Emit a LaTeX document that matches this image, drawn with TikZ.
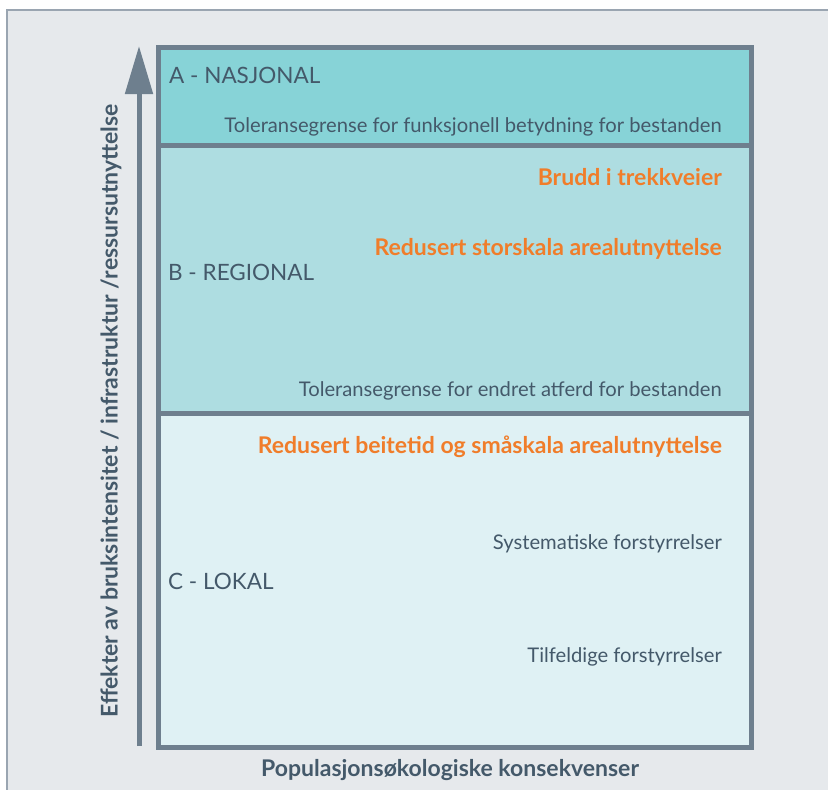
\documentclass[tikz,border=0pt]{standalone}
\usepackage{fontspec}
\setmainfont{Lato}
\usetikzlibrary{positioning, arrows.meta}
\definecolor{framegray}{HTML}{9AA5B1}
\definecolor{bggray}{HTML}{E6E9EC}
\definecolor{boxline}{HTML}{6E7F8E}
\definecolor{nasjfill}{HTML}{87D3D7}
\definecolor{regfill}{HTML}{AEDDE1}
\definecolor{lokfill}{HTML}{DFF1F4}
\definecolor{textdark}{HTML}{44596A}
\definecolor{effekt}{HTML}{F07D2A}

\begin{document}
\begin{tikzpicture}[
        x=1pt, y=-1pt,
        font=\fontsize{20.2}{24}\selectfont\color{textdark},
        level/.style={rectangle, draw=boxline, line width=4.5pt,
          inner sep=0pt, anchor=north west},
        levelname/.style={anchor=west, inner sep=0pt,
          font=\fontsize{22.5}{26}\selectfont\color{textdark}},
        note/.style={anchor=east, inner sep=0pt},
        impact/.style={anchor=east, inner sep=0pt,
          font=\fontsize{23}{27}\selectfont\bfseries\color{effekt}},
        axislabel/.style={inner sep=0pt,
          font=\fontsize{23}{27}\selectfont\bfseries\color{textdark}}
      ]
      \useasboundingbox (0,0) rectangle (828,790);

      % background frame
      \draw[fill=bggray, draw=framegray, line width=2.5pt]
      (7,10) rectangle (840,800);

      % levels
      \node[level, fill=lokfill, minimum width=593pt,
        minimum height=334pt] (lokal) at (156,411) {};
      \node[level, fill=regfill, minimum width=593pt,
        minimum height=268pt] (regional) at (156,143) {};
      \node[level, fill=nasjfill, minimum width=593pt,
        minimum height=98pt] (nasjonal) at (156,45) {};

      % level names
      \node[levelname] (a_name) at (169,75) {A - NASJONAL};
      \node[levelname] (b_name) at (168,272) {B - REGIONAL};
      \node[levelname] (c_name) at (168,581) {C - LOKAL};

      % notes and impacts
      \node[note] (a_tol) at (722,127)
      {Toleransegrense for funksjonell betydning for bestanden};
      \node[impact] (b_brudd) at (722,177) {Brudd i trekkveier};
      \node[impact] (b_stor) at (722,249)
      {Redusert storskala arealutnyttelse};
      \node[note] (b_tol) at (722,391)
      {Toleransegrense for endret atferd for bestanden};
      \node[impact] (c_beite) at (722,447)
      {Redusert beitetid og småskala arealutnyttelse};
      \node[note] (c_sys) at (722,544) {Systematiske forstyrrelser};
      \node[note] (c_tilf) at (722,657) {Tilfeldige forstyrrelser};

      % axes
      \coordinate (y_foot) at (139,746);
      \coordinate (y_tip) at (139,46);
      \draw[boxline, line width=5pt,
        -{Triangle[length=48pt, width=27pt]}] (y_foot) -- (y_tip);
      \node[axislabel, rotate=90] (y_label) at (111,411)
      {Effekter av bruksintensitet / infrastruktur /ressursutnyttelse};
      \node[axislabel] (x_label) at (450,770)
      {Populasjonsøkologiske konsekvenser};

    \end{tikzpicture}
\end{document}
